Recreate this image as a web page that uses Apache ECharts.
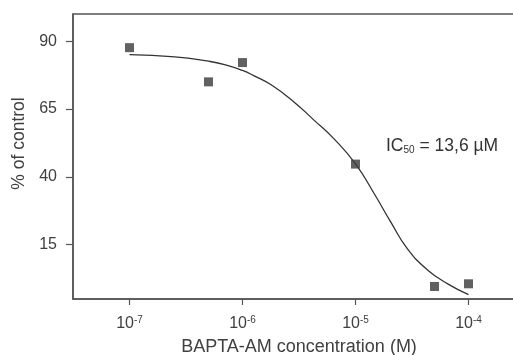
<!DOCTYPE html>
<html>
<head>
<meta charset="utf-8">
<script src="https://cdn.jsdelivr.net/npm/echarts@6/dist/echarts.min.js"></script>
<style>
  html, body { margin: 0; padding: 0; background: #fff; }
  #chart { width: 513px; height: 355px; }
</style>
</head>
<body>
<div id="chart"></div>
<script>
// measured points (concentration in M, % of control)
const concentrations = [1e-7, 5e-7, 1e-6, 1e-5, 5e-5, 1e-4];
const percentControl = [87.6, 75.0, 82.1, 44.7, -0.4, 0.6];

// fitted curve (log10 of concentration)
const curveLogX = [-7.0, -6.6, -6.3, -6.15, -6.0, -5.9, -5.75, -5.55, -5.37, -5.19, -5.0, -4.83, -4.69, -4.54, -4.36, -4.18, -4.0];
const curveY = [85.0, 84.2, 82.6, 81.3, 79.2, 77.3, 74.0, 67.8, 61.0, 54.0, 44.8, 33.5, 23.5, 13.5, 5.6, 0.5, -3.4];

// tick positions
const xTickExponents = [-7, -6, -5, -4];
const yTicks = [15, 40, 65, 90];

const chartDom = document.getElementById('chart');
const myChart = echarts.init(chartDom);

const axisColor = '#555555';
const labelColor = '#404040';
const fontFamily = '"Liberation Sans", Arial, sans-serif';

const option = {
  animation: false,
  backgroundColor: '#ffffff',
  grid: {
    left: 73,
    right: -12,
    top: 14,
    bottom: 56,
    outerBoundsMode: 'none',
    show: true,
    borderColor: axisColor,
    borderWidth: 1.5,
  },
  xAxis: {
    type: 'value',
    min: -7.5,
    max: -3.5,
    name: 'BAPTA-AM concentration (M)',
    nameLocation: 'middle',
    nameGap: 39,
    nameTextStyle: { fontSize: 18, color: labelColor, fontFamily },
    axisLine: { show: true, onZero: false, lineStyle: { color: axisColor, width: 1.5 } },
    axisTick: {
      show: true,
      inside: false,
      length: 6,
      customValues: xTickExponents,
      lineStyle: { color: axisColor, width: 1.2 },
    },
    axisLabel: {
      margin: 16,
      customValues: xTickExponents,
      formatter: (v) => '10{sup|' + v + '}',
      fontSize: 16,
      color: labelColor,
      fontFamily,
      rich: {
        sup: { fontSize: 10, color: labelColor, fontFamily, padding: [0, 0, 8, 0] },
      },
    },
    splitLine: { show: false },
  },
  yAxis: {
    type: 'value',
    min: -5,
    max: 100,
    name: '% of control',
    nameLocation: 'middle',
    nameGap: 43,
    nameTextStyle: { fontSize: 17.5, color: labelColor, fontFamily, padding: [0, 0, 0, 26] },
    axisLine: { show: true, onZero: false, lineStyle: { color: axisColor, width: 1.5 } },
    axisTick: {
      show: true,
      inside: false,
      length: 7,
      customValues: yTicks,
      lineStyle: { color: axisColor, width: 1.2 },
    },
    axisLabel: {
      margin: 16,
      customValues: yTicks,
      fontSize: 16,
      color: labelColor,
      fontFamily,
    },
    splitLine: { show: false },
  },
  graphic: [
    {
      type: 'text',
      left: 386,
      top: 137,
      style: {
        text: 'IC{sub|50} = 13,6 µM',
        font: '17.5px "Liberation Sans", Arial, sans-serif',
        fill: '#333333',
        rich: {
          sub: { fontSize: 10, fill: '#333333', padding: [9, 0, 0, 0] },
        },
      },
    },
  ],
  series: [
    {
      name: 'fit',
      type: 'line',
      data: curveLogX.map((x, i) => [x, curveY[i]]),
      smooth: 0.5,
      symbol: 'none',
      lineStyle: { color: '#333333', width: 1.3 },
      z: 2,
    },
    {
      name: 'measured',
      type: 'scatter',
      data: concentrations.map((c, i) => [Math.log10(c), percentControl[i]]),
      symbol: 'rect',
      symbolSize: 9,
      itemStyle: { color: '#3a3a3a' },
      z: 3,
    },
  ],
};

myChart.setOption(option);
</script>
</body>
</html>
